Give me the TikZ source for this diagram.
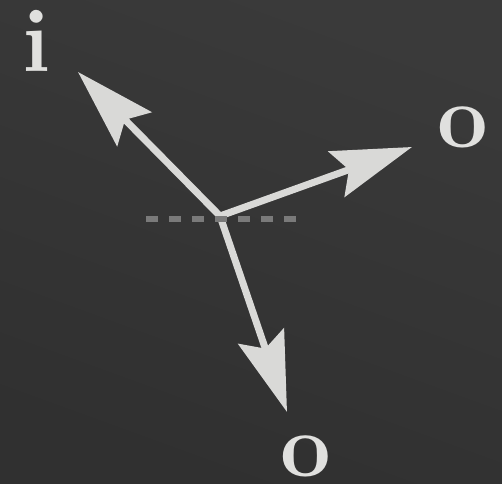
\documentclass[tikz,border=0pt]{standalone}
\usetikzlibrary{arrows.meta}
\definecolor{bg-dark}{HTML}{353535}
\definecolor{bg-top}{HTML}{3A3A3A}
\definecolor{bg-bottom}{HTML}{303030}
\definecolor{arm-grey}{HTML}{D9D9D7}
\definecolor{dash-grey}{HTML}{7A7A7A}
\definecolor{label-grey}{HTML}{E0E0DE}

\begin{document}
\begin{tikzpicture}[x=1pt, y=-1pt,
      arm/.style={draw=arm-grey, line width=7pt,
          -{Stealth[length=80pt, width=48pt, inset=13pt, fill=arm-grey]}},
      portlabel/.style={text=label-grey, inner sep=0pt,
          font=\fontsize{90}{100}\selectfont\bfseries}]
    \shade[top color=bg-top, bottom color=bg-bottom, shading angle=-20]
        (0,0) rectangle (502,483);
    \useasboundingbox (0,0) rectangle (502,483);
    \coordinate (hub) at (220,216);
    \coordinate (tipI)  at (78,72);
    \coordinate (tipO1) at (412,147);
    \coordinate (tipO2) at (287,412);
    \coordinate (dashL) at (146,219);
    \coordinate (dashR) at (296,219);
    \node[portlabel] (lblI)  at (37,41)   {i};
    \node[portlabel] (lblO1) at (463,127) {o};
    \node[portlabel] (lblO2) at (306,456) {o};
    \draw[arm] (hub) -- (tipI);
    \draw[arm] (hub) -- (tipO1);
    \draw[arm] (hub) -- (tipO2);
    % reference line sits on top of the junction
    \draw[dash-grey, line width=6pt, dash pattern=on 11.7pt off 11.3pt]
        (dashL) -- (dashR);
  \end{tikzpicture}
\end{document}
